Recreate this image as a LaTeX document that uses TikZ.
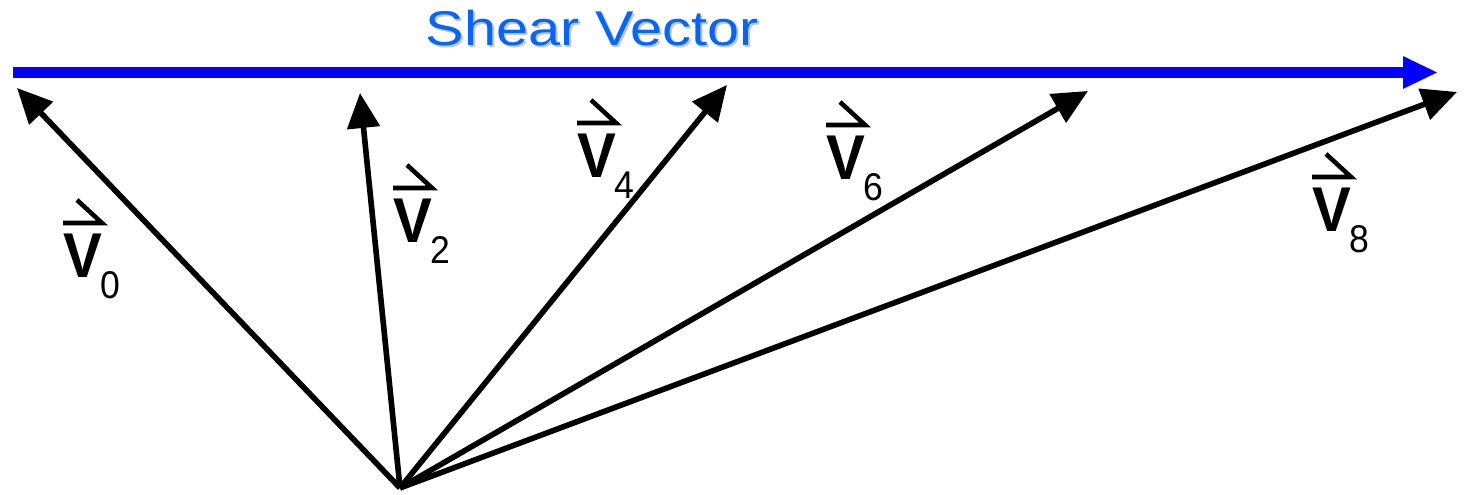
\documentclass[tikz,border=0pt]{standalone}
\usepackage{fontspec}
\setmainfont{Liberation Sans}
\usetikzlibrary{arrows.meta}
\definecolor{titleblue}{RGB}{0,102,255}

\newcommand{\vsub}[1]{V\kern-0.5pt\raisebox{-0.21cm}{\fontsize{11}{11}\selectfont\mdseries #1}}

\begin{document}
\begin{tikzpicture}[
      vec/.style={line width=1.6pt, -{Triangle[length=0.35cm, width=0.32cm]}},
      shear/.style={blue, line width=0.11cm,
                    -{Triangle[length=0.35cm, width=0.30cm]}},
      vlab/.style={anchor=base west, inner sep=0pt, xscale=0.92, transform shape,
                   font=\fontsize{18}{18}\selectfont\bfseries},
      title/.style={anchor=base west, inner sep=0pt, xscale=1.18, transform shape,
                    font=\fontsize{13.9}{14}\selectfont},
      harp/.style={line width=1.3pt, line join=miter}
    ]
      \useasboundingbox (0,0) rectangle (14.64,4.95);

      % title with its shadow
      \node[title, text=black!22] at (4.27,4.47) {Shear Vector};
      \node[title, text=titleblue] (ttl) at (4.25,4.49) {Shear Vector};

      % shear vector
      \coordinate (s0) at (0.13,4.225);
      \coordinate (s1) at (14.38,4.225);
      \draw[shear] (s0) -- (s1);

      % the vectors
      \coordinate (O)  at (4.00,0.07);
      \coordinate (v0) at (0.17,4.07);
      \coordinate (v2) at (3.60,4.02);
      \coordinate (v4) at (7.27,4.10);
      \coordinate (v6) at (10.88,4.04);
      \coordinate (v8) at (14.57,4.03);
      \foreach \n in {0,2,4,6,8}
        \draw[vec] (O) -- (v\n);

      % labels
      \node[vlab] (l0) at (0.63,2.17) {\vsub{0}};
      \node[vlab] (l2) at (3.93,2.52) {\vsub{2}};
      \node[vlab] (l4) at (5.77,3.17) {\vsub{4}};
      \node[vlab] (l6) at (8.26,3.15) {\vsub{6}};
      \node[vlab] (l8) at (13.12,2.63) {\vsub{8}};
      \foreach \n in {0,2,4,6,8}
        \draw[harp] ([shift={(0.14,0.78)}]l\n.base west) -- ++(0.25,-0.23) -- ++(-0.39,0);
    \end{tikzpicture}
\end{document}
